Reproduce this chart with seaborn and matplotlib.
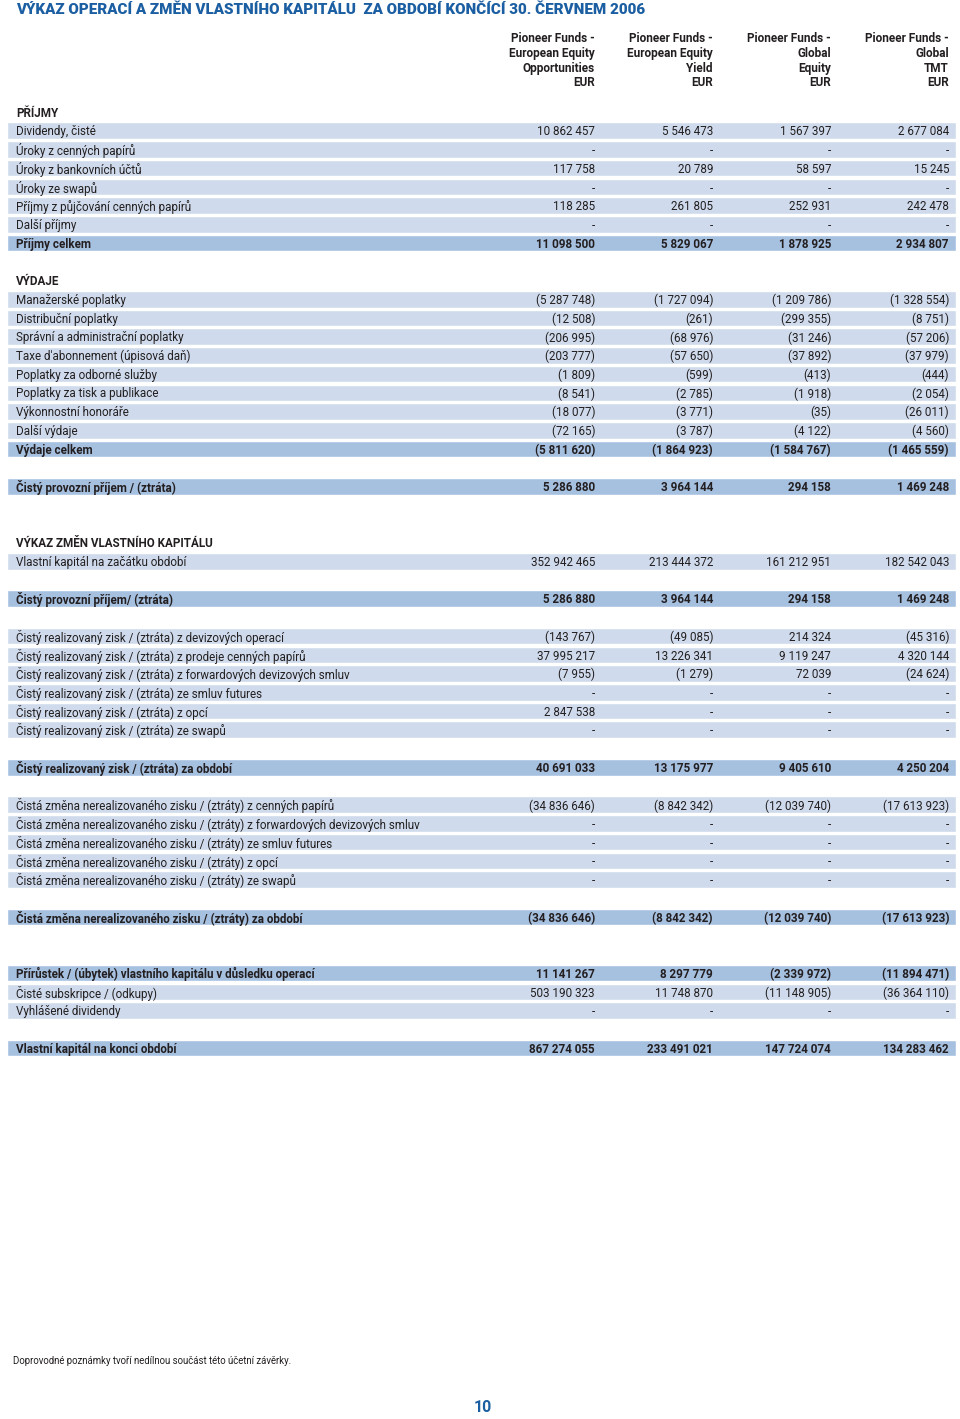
import numpy as np
import pandas as pd
import seaborn as sns
import matplotlib.pyplot as plt

sns.set_style("white")
plt.rcParams['font.family'] = ['Roboto', 'DejaVu Sans']

title = "VÝKAZ OPERACÍ A ZMĚN VLASTNÍHO KAPITÁLU  ZA OBDOBÍ KONČÍCÍ 30. ČERVNEM 2006"
funds = ["Pioneer Funds -\nEuropean Equity\nOpportunities\nEUR",
         "Pioneer Funds -\nEuropean Equity\nYield\nEUR",
         "Pioneer Funds -\nGlobal\nEquity\nEUR",
         "Pioneer Funds -\nGlobal\nTMT\nEUR"]

# row labels and kinds: head = section title, row = light band, total = dark band, blank = gap
labels = [
    "PŘÍJMY", "Dividendy, čisté", "Úroky z cenných papírů", "Úroky z bankovních účtů",
    "Úroky ze swapů", "Příjmy z půjčování cenných papírů", "Další příjmy", "Příjmy celkem",
    "",
    "VÝDAJE", "Manažerské poplatky", "Distribuční poplatky", "Správní a administrační poplatky",
    "Taxe d'abonnement (úpisová daň)", "Poplatky za odborné služby", "Poplatky za tisk a publikace",
    "Výkonnostní honoráře", "Další výdaje", "Výdaje celkem",
    "",
    "Čistý provozní příjem / (ztráta)",
    "", "",
    "VÝKAZ ZMĚN VLASTNÍHO KAPITÁLU", "Vlastní kapitál na začátku období",
    "",
    "Čistý provozní příjem/ (ztráta)",
    "",
    "Čistý realizovaný zisk / (ztráta) z devizových operací",
    "Čistý realizovaný zisk / (ztráta) z prodeje cenných papírů",
    "Čistý realizovaný zisk / (ztráta) z forwardových devizových smluv",
    "Čistý realizovaný zisk / (ztráta) ze smluv futures",
    "Čistý realizovaný zisk / (ztráta) z opcí",
    "Čistý realizovaný zisk / (ztráta) ze swapů",
    "",
    "Čistý realizovaný zisk / (ztráta) za období",
    "",
    "Čistá změna nerealizovaného zisku / (ztráty) z cenných papírů",
    "Čistá změna nerealizovaného zisku / (ztráty) z forwardových devizových smluv",
    "Čistá změna nerealizovaného zisku / (ztráty) ze smluv futures",
    "Čistá změna nerealizovaného zisku / (ztráty) z opcí",
    "Čistá změna nerealizovaného zisku / (ztráty) ze swapů",
    "",
    "Čistá změna nerealizovaného zisku / (ztráty) za období",
    "", "",
    "Přírůstek / (úbytek) vlastního kapitálu v důsledku operací",
    "Čisté subskripce / (odkupy)",
    "Vyhlášené dividendy",
    "",
    "Vlastní kapitál na konci období",
]
kinds = (["head"] + ["row"] * 6 + ["total", "blank"]
         + ["head"] + ["row"] * 8 + ["total", "blank"]
         + ["total", "blank", "blank"]
         + ["head", "row", "blank", "total", "blank"]
         + ["row"] * 6 + ["blank", "total", "blank"]
         + ["row"] * 5 + ["blank", "total", "blank", "blank"]
         + ["total", "row", "row", "blank", "total"])

N = None
eeo = [N, 10862457, N, 117758, N, 118285, N, 11098500, N,
       N, -5287748, -12508, -206995, -203777, -1809, -8541, -18077, -72165, -5811620, N,
       5286880, N, N,
       N, 352942465, N, 5286880, N,
       -143767, 37995217, -7955, N, 2847538, N, N, 40691033, N,
       -34836646, N, N, N, N, N, -34836646, N, N,
       11141267, 503190323, N, N, 867274055]
eey = [N, 5546473, N, 20789, N, 261805, N, 5829067, N,
       N, -1727094, -261, -68976, -57650, -599, -2785, -3771, -3787, -1864923, N,
       3964144, N, N,
       N, 213444372, N, 3964144, N,
       -49085, 13226341, -1279, N, N, N, N, 13175977, N,
       -8842342, N, N, N, N, N, -8842342, N, N,
       8297779, 11748870, N, N, 233491021]
ge = [N, 1567397, N, 58597, N, 252931, N, 1878925, N,
      N, -1209786, -299355, -31246, -37892, -413, -1918, -35, -4122, -1584767, N,
      294158, N, N,
      N, 161212951, N, 294158, N,
      214324, 9119247, 72039, N, N, N, N, 9405610, N,
      -12039740, N, N, N, N, N, -12039740, N, N,
      -2339972, -11148905, N, N, 147724074]
tmt = [N, 2677084, N, 15245, N, 242478, N, 2934807, N,
       N, -1328554, -8751, -57206, -37979, -444, -2054, -26011, -4560, -1465559, N,
       1469248, N, N,
       N, 182542043, N, 1469248, N,
       -45316, 4320144, -24624, N, N, N, N, 4250204, N,
       -17613923, N, N, N, N, N, -17613923, N, N,
       -11894471, -36364110, N, N, 134283462]

footnote = "Doprovodné poznámky tvoří nedílnou součást této účetní závěrky."
page = "10"

df = pd.DataFrame({"label": labels, "kind": kinds,
                   "eeo": eeo, "eey": eey, "ge": ge, "tmt": tmt})
df["y"] = 112 + np.arange(len(df)) * 18.72


def fmt(v):
    if v is None or pd.isna(v):
        return "-"
    s = f"{abs(int(v)):,}".replace(",", " ")
    return f"({s})" if v < 0 else s


blue = "#1b5fa2"
ink = "#231f20"
light = "#cfdbec"
dark = "#a6c0e0"
col_x = [595, 713, 831, 949]

fig = plt.figure(figsize=(9.6, 14.19), dpi=100)
ax = fig.add_axes([0, 0, 1, 1])
ax.set_xlim(0, 960)
ax.set_ylim(1419, 0)
ax.axis("off")

bands = df[df["kind"].isin(["row", "total"])]
ax.barh(bands["y"], 949, left=7, height=16.6,
        color=[dark if k == "total" else light for k in bands["kind"]])

ax.text(16, 10.5, title, color=blue, fontsize=10.9, fontweight="black",
        va="center", ha="left")

for x, f in zip(col_x, funds):
    ax.text(x, 32.5, f, ha="right", va="top", fontsize=8.5, fontweight="bold",
            color=ink, linespacing=1.16)

for _, r in df.iterrows():
    if r["kind"] == "blank":
        continue
    bold = r["kind"] in ("head", "total")
    ax.text(16, r["y"] + 1.2, r["label"], ha="left", va="center", fontsize=8.4,
            fontweight="bold" if bold else "normal", color=ink)
    if r["kind"] == "head":
        continue
    for x, c in zip(col_x, ["eeo", "eey", "ge", "tmt"]):
        ax.text(x, r["y"] + 1.2, fmt(r[c]), ha="right", va="center", fontsize=8.4,
                fontweight="bold" if bold else "normal", color=ink)

ax.text(13, 1361.5, footnote, ha="left", va="center", fontsize=6.9, color=ink)
ax.text(483, 1408, page, ha="center", va="center", fontsize=11.5, fontweight="bold",
        color=blue)

fig.savefig("out.png", dpi=100)
